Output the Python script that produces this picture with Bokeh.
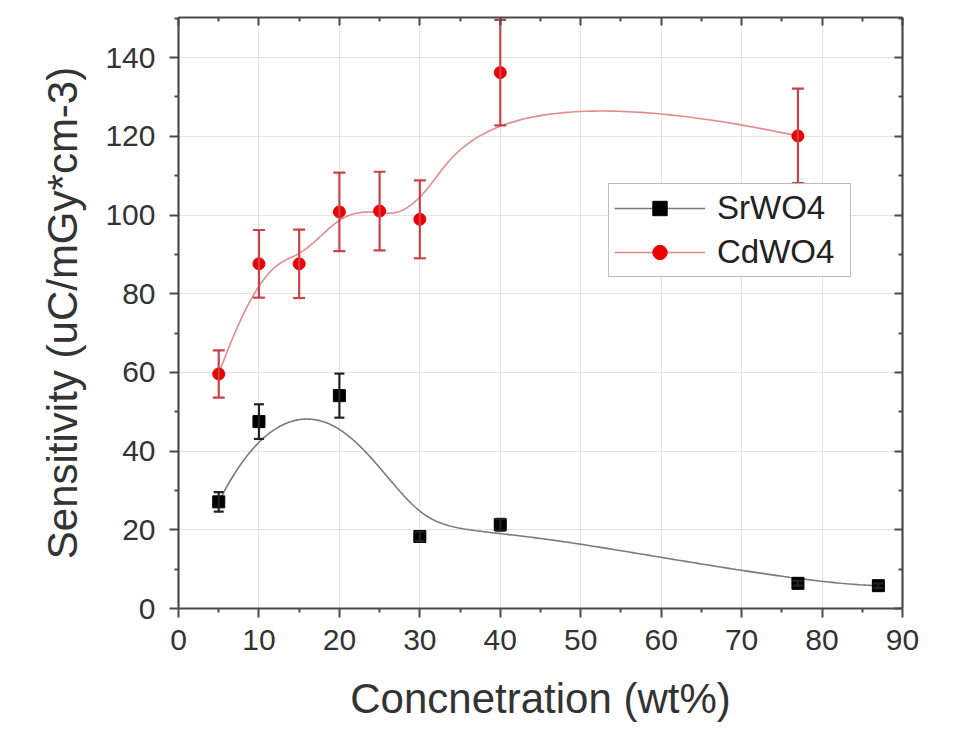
import numpy as np
from bokeh.plotting import figure
from bokeh.models import (ColumnDataSource, Whisker, TeeHead, LinearAxis, Range1d,
                          Legend, LegendItem, FixedTicker)
from bokeh.embed import file_html
from bokeh.resources import INLINE

# ---- data ----
sr_x = [5, 10, 20, 30, 40, 77, 87]
sr_y = [27.1, 47.5, 54.1, 18.3, 21.3, 6.4, 5.8]
sr_err = [2.5, 4.4, 5.6, 1.2, 1.5, 0.6, 0.6]

cd_x = [5, 10, 15, 20, 25, 30, 40, 77]
cd_y = [59.6, 87.6, 87.6, 100.8, 101.0, 98.9, 136.2, 120.1]
cd_err = [6.0, 8.6, 8.7, 10.0, 10.0, 9.9, 13.4, 12.0]

x_ticks = [0, 10, 20, 30, 40, 50, 60, 70, 80, 90]
y_ticks = [0, 20, 40, 60, 80, 100, 120, 140]


def bspline(xs, ys, degree=3, num=400):
    """Clamped uniform B-spline using the data points as control points."""
    P = np.column_stack([xs, ys]).astype(float)
    n = len(P)
    k = degree
    inner = np.arange(1, n - k)
    knots = np.concatenate([np.zeros(k + 1), inner, np.full(k + 1, n - k)]).astype(float)
    ts = np.linspace(0, n - k, num)
    ts[-1] -= 1e-9

    def basis(i, p, t):
        if p == 0:
            return np.where((knots[i] <= t) & (t < knots[i + 1]), 1.0, 0.0)
        d1 = knots[i + p] - knots[i]
        d2 = knots[i + p + 1] - knots[i + 1]
        a = 0.0 if d1 == 0 else (t - knots[i]) / d1 * basis(i, p - 1, t)
        b = 0.0 if d2 == 0 else (knots[i + p + 1] - t) / d2 * basis(i + 1, p - 1, t)
        return a + b

    N = np.array([basis(i, k, ts) for i in range(n)])
    C = N.T @ P
    return C[:, 0], C[:, 1]


sr_cx, sr_cy = bspline(sr_x, sr_y)
cd_cx, cd_cy = bspline(cd_x, cd_y)

sr_src = ColumnDataSource(dict(x=sr_x, y=sr_y,
                               lo=[a - b for a, b in zip(sr_y, sr_err)],
                               hi=[a + b for a, b in zip(sr_y, sr_err)]))
cd_src = ColumnDataSource(dict(x=cd_x, y=cd_y,
                               lo=[a - b for a, b in zip(cd_y, cd_err)],
                               hi=[a + b for a, b in zip(cd_y, cd_err)]))

FONT = "Liberation Sans"
AXC = "#4a4a4a"

p = figure(width=959, height=730, output_backend="svg", toolbar_location=None,
           x_range=Range1d(0, 90), y_range=Range1d(0, 150.2),
           min_border_left=178, min_border_right=57, min_border_top=17,
           min_border_bottom=122)
p.outline_line_color = None
p.background_fill_color = "white"

for g in (p.xgrid, p.ygrid):
    g.grid_line_color = "#e3e3e3"
    g.grid_line_width = 1
p.xgrid.ticker = FixedTicker(ticks=x_ticks)
p.ygrid.ticker = FixedTicker(ticks=y_ticks)

x_minor = [t + 5 for t in x_ticks[:-1]]
y_minor = [t + 10 for t in y_ticks]


def style_axis(ax, ticks, minor, inward, labels=True):
    ax.ticker = FixedTicker(ticks=ticks, minor_ticks=minor)
    ax.axis_line_color = AXC
    ax.axis_line_width = 2.2
    ax.major_tick_line_color = AXC
    ax.minor_tick_line_color = AXC
    ax.major_tick_line_width = 2
    ax.minor_tick_line_width = 2
    if inward:
        ax.major_tick_in = 8
        ax.major_tick_out = 0
        ax.minor_tick_in = 4
        ax.minor_tick_out = 0
    else:
        ax.major_tick_in = 0
        ax.major_tick_out = 9
        ax.minor_tick_in = 0
        ax.minor_tick_out = 4
    if labels:
        ax.major_label_text_font = FONT
        ax.major_label_text_font_size = "30px"
        ax.major_label_text_color = "#333333"
        ax.axis_label_text_font = FONT
        ax.axis_label_text_font_size = "42px"
        ax.axis_label_text_font_style = "normal"
        ax.axis_label_text_color = "#333333"
    else:
        ax.major_label_text_color = None
        ax.major_label_text_font_size = "0px"
        ax.major_label_standoff = 0
        ax.axis_label = None


style_axis(p.xaxis[0], x_ticks, x_minor, False)
style_axis(p.yaxis[0], y_ticks, y_minor, False)
p.xaxis[0].axis_label = "Concnetration (wt%)"
p.yaxis[0].axis_label = "Sensitivity (uC/mGy*cm-3)"
p.xaxis[0].major_label_standoff = 12
p.xaxis[0].axis_label_standoff = 22
p.yaxis[0].major_label_standoff = 14
p.yaxis[0].axis_label_standoff = 16

top = LinearAxis()
right = LinearAxis()
style_axis(top, x_ticks, x_minor, True, labels=False)
style_axis(right, y_ticks, y_minor, True, labels=False)
p.add_layout(top, "above")
p.add_layout(right, "right")

# error bars
cd_w = Whisker(source=cd_src, base="x", lower="lo", upper="hi", dimension="height",
               line_color="#c8424a", line_width=2.2,
               lower_head=TeeHead(size=12, line_color="#c8424a", line_width=2.2),
               upper_head=TeeHead(size=12, line_color="#c8424a", line_width=2.2),
               level="glyph")
sr_w = Whisker(source=sr_src, base="x", lower="lo", upper="hi", dimension="height",
               line_color="#222222", line_width=2.2,
               lower_head=TeeHead(size=10, line_color="#222222", line_width=2.2),
               upper_head=TeeHead(size=10, line_color="#222222", line_width=2.2),
               level="glyph")
p.add_layout(cd_w)
p.add_layout(sr_w)

# curves
sr_line = p.line(sr_cx, sr_cy, line_color="#7a7a7a", line_width=1.6)
cd_line = p.line(cd_cx, cd_cy, line_color="#e48a8a", line_width=1.6)

sr_pts = p.scatter("x", "y", source=sr_src, marker="square", size=12,
                   fill_color="#000000", line_color="#000000")
cd_pts = p.scatter("x", "y", source=cd_src, marker="circle", size=12,
                   fill_color="#ec0000", line_color="#ec0000")

legend = Legend(items=[LegendItem(label="SrWO4", renderers=[sr_line, sr_pts]),
                       LegendItem(label="CdWO4", renderers=[cd_line, cd_pts])],
                location=(430, 331))
legend.label_text_font = FONT
legend.label_text_font_size = "33px"
legend.label_text_color = "#222222"
legend.glyph_width = 91
legend.glyph_height = 36
legend.label_height = 36
legend.label_width = 128
legend.label_standoff = 12
legend.spacing = 6
legend.padding = 5
legend.margin = 0
legend.border_line_color = "#777777"
legend.border_line_width = 1.5
legend.background_fill_color = "white"
legend.background_fill_alpha = 1
p.add_layout(legend, "center")

open("out.html", "w").write(file_html(p, INLINE))
